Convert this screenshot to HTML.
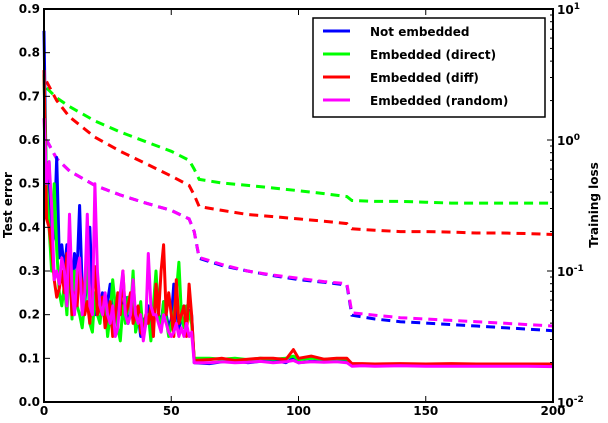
<!DOCTYPE html>
<html><head><meta charset="utf-8"><style>
body{margin:0;background:#fff;}
svg text{font-family:"DejaVu Sans","Liberation Sans",sans-serif;font-weight:bold;font-size:12px;fill:#000;}
</style></head><body>
<svg id="chart" width="608" height="418" xmlns="http://www.w3.org/2000/svg"></svg>
<script>
const epochsEarly=[0,1,2,3,4,5,6,7,8,9,10,11,12,13,14,15,16,17,18,19,20,21,22,23,24,25,26,27,28,29,30,31,32,33,34,35,36,37,38,39,40,41,42,43,44,45,46,47,48,49,50,51,52,53,54,55,56,57,58];
const epochsLate=[59,65,70,75,80,85,90,95,98,100,105,110,115,119,121,125,130,140,150,160,170,180,190,200];
const blueErr=[0.85,0.47,0.55,0.36,0.38,0.56,0.33,0.36,0.3,0.36,
 0.28,0.25,0.34,0.3,0.45,0.26,0.22,0.3,0.4,0.25,
 0.2,0.27,0.22,0.25,0.2,0.23,0.27,0.2,0.19,0.22,
 0.25,0.2,0.24,0.18,0.2,0.23,0.17,0.2,0.15,0.19,
 0.18,0.22,0.16,0.2,0.25,0.2,0.18,0.23,0.2,0.17,
 0.19,0.27,0.22,0.16,0.2,0.22,0.18,0.21,0.2,
 0.09,0.088,0.092,0.094,0.09,0.093,0.095,0.09,0.1,0.09,0.093,0.092,0.094,0.092,0.085,0.084,0.085,0.084,0.085,0.084,0.085,0.084,0.084,0.083];
const greenErr=[0.75,0.5,0.4,0.3,0.5,0.35,0.25,0.22,0.27,0.2,
 0.33,0.19,0.3,0.22,0.2,0.17,0.23,0.33,0.18,0.16,
 0.25,0.2,0.18,0.24,0.23,0.15,0.2,0.28,0.22,0.17,
 0.14,0.22,0.18,0.24,0.2,0.3,0.16,0.19,0.23,0.15,
 0.18,0.2,0.14,0.22,0.3,0.2,0.16,0.23,0.19,0.15,
 0.18,0.2,0.25,0.32,0.2,0.17,0.22,0.2,0.18,
 0.1,0.1,0.098,0.1,0.097,0.1,0.098,0.1,0.105,0.097,0.1,0.098,0.099,0.098,0.086,0.087,0.086,0.086,0.085,0.086,0.085,0.086,0.085,0.085];
const redErr=[0.76,0.42,0.4,0.35,0.28,0.24,0.26,0.3,0.25,0.34,
 0.33,0.2,0.25,0.22,0.3,0.27,0.2,0.23,0.18,0.25,
 0.31,0.2,0.22,0.24,0.17,0.2,0.23,0.15,0.2,0.25,
 0.2,0.3,0.2,0.22,0.25,0.18,0.2,0.22,0.16,0.15,
 0.2,0.18,0.22,0.15,0.27,0.2,0.3,0.36,0.2,0.25,
 0.2,0.15,0.28,0.18,0.2,0.22,0.15,0.27,0.2,
 0.095,0.097,0.1,0.095,0.098,0.1,0.1,0.097,0.12,0.1,0.105,0.098,0.1,0.1,0.088,0.088,0.087,0.088,0.087,0.088,0.087,0.087,0.087,0.087];
const magentaErr=[0.65,0.5,0.55,0.45,0.28,0.3,0.27,0.33,0.3,0.22,
 0.43,0.26,0.2,0.3,0.33,0.2,0.25,0.43,0.22,0.2,
 0.5,0.3,0.22,0.2,0.25,0.2,0.18,0.22,0.15,0.17,
 0.25,0.3,0.2,0.18,0.2,0.28,0.2,0.18,0.2,0.14,
 0.18,0.34,0.22,0.2,0.2,0.18,0.16,0.2,0.18,0.16,
 0.15,0.16,0.18,0.15,0.17,0.15,0.18,0.15,0.16,
 0.09,0.09,0.092,0.09,0.091,0.093,0.09,0.092,0.095,0.09,0.092,0.091,0.092,0.09,0.082,0.083,0.082,0.083,0.082,0.082,0.082,0.082,0.082,0.081];
const lossEpochs=[1,5,10,20,30,40,50,57,59,61,70,80,90,100,110,119,121,130,140,150,160,170,180,190,200];
const blueLoss=[1.0,0.72,0.58,0.45,0.38,0.33,0.29,0.25,0.2,0.125,0.11,0.1,0.092,0.086,0.082,0.078,0.046,0.043,0.041,0.04,0.039,0.038,0.037,0.036,0.035];
const magentaLoss=[1.0,0.72,0.58,0.45,0.38,0.33,0.29,0.25,0.2,0.127,0.112,0.1,0.093,0.088,0.083,0.08,0.048,0.046,0.044,0.043,0.042,0.041,0.04,0.039,0.038];
const greenLoss=[2.5,2.1,1.8,1.4,1.15,0.97,0.82,0.7,0.6,0.5,0.47,0.45,0.43,0.41,0.39,0.37,0.345,0.34,0.34,0.335,0.33,0.33,0.33,0.33,0.33];
const redLoss=[2.8,2.0,1.5,1.05,0.82,0.66,0.53,0.45,0.38,0.31,0.29,0.27,0.26,0.25,0.24,0.23,0.21,0.205,0.2,0.2,0.198,0.195,0.195,0.193,0.19];
const xTicks=[0,50,100,150,200];
const yTicks=[0,0.1,0.2,0.3,0.4,0.5,0.6,0.7,0.8,0.9];
const legendLabels=["Not embedded","Embedded (direct)","Embedded (diff)","Embedded (random)"];
const colors=["#0000ff","#00ff00","#ff0000","#ff00ff"];

const L=44,R=553,T=9,B=402;
const NS="http://www.w3.org/2000/svg";
const svg=document.getElementById('chart');
const xs=v=>L+(v/200)*(R-L);
const ys=v=>B-(v/0.9)*(B-T);
const yl=v=>T+(1-Math.log10(v))/3*(B-T);
function mk(tag,attrs,parent){const e=document.createElementNS(NS,tag);for(const k in attrs)e.setAttribute(k,attrs[k]);(parent||svg).appendChild(e);return e;}

const epochsAll=epochsEarly.concat(epochsLate);
const errs=[blueErr,greenErr,redErr,magentaErr];
const losses=[blueLoss,greenLoss,redLoss,magentaLoss];
const names=["not-embedded","embedded-direct","embedded-diff","embedded-random"];
for(let s=0;s<4;s++){
  const d=lossEpochs.map((e,i)=>(i?'L':'M')+xs(e).toFixed(1)+','+yl(losses[s][i]).toFixed(1)).join(' ');
  const p=mk('path',{d:d,fill:'none',stroke:colors[s],'stroke-width':3,'stroke-dasharray':'9,6'});
  
  
}
for(let s=0;s<4;s++){
  const d=epochsAll.map((e,i)=>(i?'L':'M')+xs(e).toFixed(1)+','+ys(errs[s][i]).toFixed(1)).join(' ');
  const p=mk('path',{d:d,fill:'none',stroke:colors[s],'stroke-width':3,'stroke-linejoin':'round'});
  
  
}
const fr=mk('rect',{x:L,y:T,width:R-L,height:B-T,fill:'none',stroke:'#000','stroke-width':2});


xTicks.forEach(v=>{
  mk('line',{x1:xs(v),x2:xs(v),y1:B,y2:B-6,stroke:'#000'});
  mk('line',{x1:xs(v),x2:xs(v),y1:T,y2:T+6,stroke:'#000'});
  const t=mk('text',{x:xs(v),y:B+13,'text-anchor':'middle'});t.textContent=v;
  
  
});
yTicks.forEach(v=>{
  mk('line',{x1:L,x2:L+6,y1:ys(v),y2:ys(v),stroke:'#000'});
  const t=mk('text',{x:L-4,y:ys(v)+4,'text-anchor':'end'});t.textContent=v.toFixed(1);
  
  
});
for(let dec=-2;dec<=1;dec++){
  const y=yl(Math.pow(10,dec));
  mk('line',{x1:R,x2:R-6,y1:y,y2:y,stroke:'#000'});
  const t=mk('text',{x:R+4,y:y+5});t.innerHTML='10<tspan dy="-5" font-size="9">'+dec+'</tspan>';
  
  
  if(dec<1)for(let m=2;m<10;m++){const yy=yl(m*Math.pow(10,dec));mk('line',{x1:R,x2:R-3,y1:yy,y2:yy,stroke:'#000'});}
}
const yt=mk('text',{transform:'translate(12,205) rotate(-90)','text-anchor':'middle'});yt.textContent='Test error';


const y2t=mk('text',{transform:'translate(598,205) rotate(-90)','text-anchor':'middle'});y2t.textContent='Training loss';


const lg=mk('g',{});


mk('rect',{x:313,y:18,width:232,height:99,fill:'#fff',stroke:'#000','stroke-width':1.5},lg);
legendLabels.forEach((lab,i)=>{
  const y=31+i*23;
  const g=mk('g',{},lg);
  
  
  mk('line',{x1:323,x2:350,y1:y,y2:y,stroke:colors[i],'stroke-width':3},g);
  const t=mk('text',{x:370,y:y+5,'font-size':'13'},g);t.textContent=lab;
});
</script>
</body></html>
